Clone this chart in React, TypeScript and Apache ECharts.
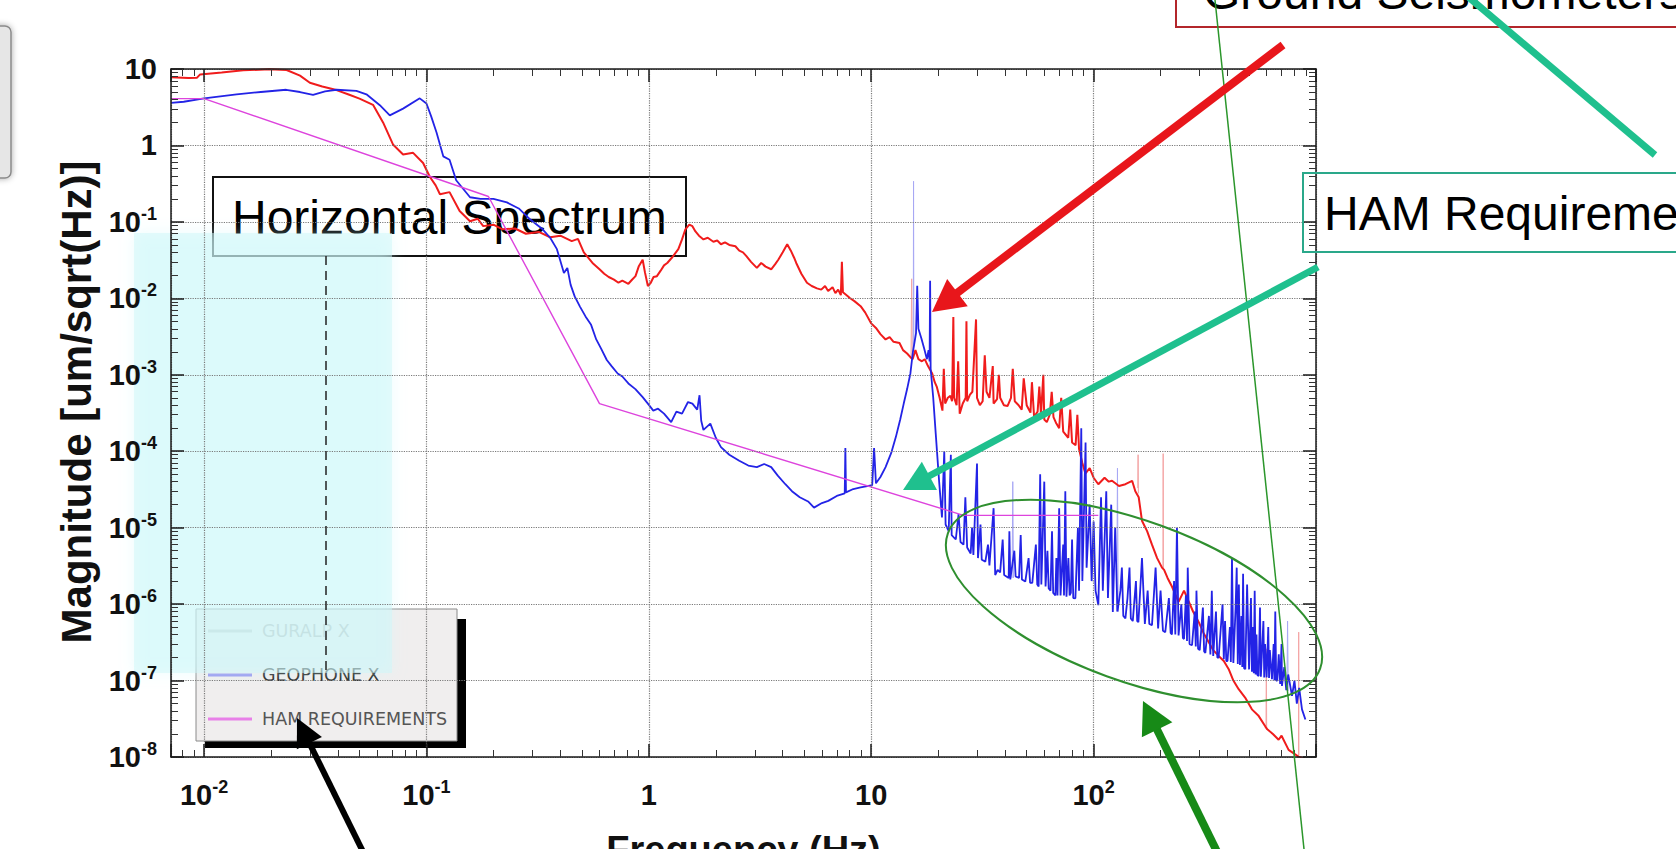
import React, { useEffect, useRef } from 'react';
import * as echarts from 'echarts';

const FONT = "'Liberation Sans', Arial, Helvetica, sans-serif";

// ---- data: [frequency Hz, magnitude um/sqrt(Hz)] ----
const guralpX: [number, number][] = [
  [0.0071, 7.8], [0.0085, 7.6], [0.0093, 7.7], [0.0096, 8.5], [0.012, 9.0], [0.015, 9.6], [0.0197, 9.9], [0.0235, 9.7],
  [0.027, 8.2], [0.0299, 6.6], [0.034, 5.9], [0.0394, 5.3], [0.045, 4.6], [0.05, 4.1], [0.0575, 3.4], [0.0638, 2.0],
  [0.0707, 1.03], [0.0785, 0.76], [0.0871, 0.8], [0.0966, 0.59], [0.1035, 0.39], [0.11, 0.3], [0.115, 0.23], [0.127, 0.245],
  [0.141, 0.139], [0.157, 0.102], [0.17, 0.11], [0.18, 0.088], [0.2, 0.092], [0.22, 0.08], [0.25, 0.082], [0.28, 0.07],
  [0.32, 0.074], [0.36, 0.063], [0.4, 0.066], [0.45, 0.056], [0.48, 0.06], [0.51, 0.04], [0.558, 0.029], [0.6, 0.024],
  [0.63, 0.021], [0.66, 0.019], [0.697, 0.0176], [0.73, 0.016], [0.76, 0.017], [0.809, 0.0155], [0.84, 0.0175], [0.871, 0.0195],
  [0.9, 0.026], [0.938, 0.032], [0.96, 0.022], [0.99, 0.0145], [1.02, 0.016], [1.05, 0.019], [1.087, 0.0195], [1.13, 0.023],
  [1.17, 0.027], [1.21, 0.029], [1.28, 0.035], [1.357, 0.044], [1.41, 0.059], [1.46, 0.08], [1.52, 0.092], [1.57, 0.088],
  [1.62, 0.075], [1.68, 0.066], [1.76, 0.059], [1.84, 0.062], [1.95, 0.055], [2.03, 0.057], [2.11, 0.051], [2.2, 0.054],
  [2.3, 0.05], [2.45, 0.048], [2.55, 0.042], [2.65, 0.04], [2.74, 0.036], [2.88, 0.03], [3.06, 0.025], [3.2, 0.029],
  [3.35, 0.026], [3.55, 0.024], [3.7, 0.028], [3.82, 0.032], [4.0, 0.04], [4.19, 0.051], [4.35, 0.042], [4.5, 0.034],
  [4.6, 0.029], [4.85, 0.021], [5.14, 0.016], [5.4, 0.0145], [5.7, 0.0135], [5.96, 0.013], [6.2, 0.0145], [6.4, 0.0125],
  [6.7, 0.014], [6.9, 0.0117], [7.1, 0.013], [7.3, 0.011], [7.38, 0.03], [7.46, 0.012], [7.8, 0.0108], [8.01, 0.0101],
  [8.4, 0.0092], [8.96, 0.0079], [9.4, 0.0065], [10.0, 0.0047], [10.5, 0.0041], [11.0, 0.0034], [11.6, 0.0029], [12.1, 0.0031],
  [12.6, 0.0027], [13.4, 0.0026], [13.9, 0.0021], [14.5, 0.0019], [15.0, 0.0017], [15.35, 0.0016], [15.8, 0.0021],
  [16.3, 0.0016], [16.9, 0.0015], [17.4, 0.0016], [18.0, 0.0013], [18.8, 1.04e-3], [19.3, 8e-4], [19.7, 7e-4], [20.3, 5e-4],
  [20.9, 3.4e-4], [21.2, 1.2e-3], [21.5, 4.2e-4], [22.1, 5e-4], [22.7, 5.3e-4], [23.1, 4.5e-4], [23.4, 5.7e-3], [23.6, 5e-4],
  [24.2, 4e-4], [24.6, 1.5e-3], [25.0, 3.1e-4], [25.8, 4.2e-4], [26.6, 5e-4], [26.8, 5e-3], [27.0, 4.5e-4], [27.8, 5.5e-4],
  [28.5, 6e-4], [29.6, 5.3e-3], [29.9, 5e-4], [30.8, 4e-4], [31.7, 4.5e-4], [32.4, 1.8e-3], [33.0, 6e-4], [34.0, 5e-4],
  [35.2, 1.3e-3], [35.5, 4.2e-4], [36.8, 4.8e-4], [37.5, 1e-3], [38.0, 5e-4], [39.5, 4e-4], [41.0, 3.9e-4], [42.5, 5e-4],
  [43.3, 1.2e-3], [44.2, 4.5e-4], [46.0, 4e-4], [47.5, 3.5e-4], [48.5, 9e-4], [50.0, 4e-4], [52.0, 3.2e-4], [52.8, 8e-4],
  [54.0, 2.8e-4], [56.0, 3.3e-4], [57.0, 7e-4], [58.0, 3e-4], [59.4, 1e-3], [60.0, 2.6e-4], [61.6, 2.4e-4], [63.5, 3e-4],
  [64.8, 6e-4], [66.0, 2.8e-4], [68.0, 2.3e-4], [70.0, 2e-4], [71.5, 5e-4], [73.0, 1.8e-4], [76.9, 1.5e-4], [78.5, 3.5e-4],
  [80.0, 1.3e-4], [83.0, 1.2e-4], [84.5, 3e-4], [86.0, 1.07e-4], [89.0, 7e-5], [91.8, 5.1e-5], [96.0, 6e-5], [100.0, 4.5e-5],
  [105.0, 3.7e-5], [112.0, 4.5e-5], [117.0, 4e-5], [121.0, 4.1e-5], [130.0, 3.5e-5], [139.0, 3.7e-5], [149.0, 4.1e-5],
  [154.0, 3e-5], [159.5, 2.5e-5], [165.0, 1.23e-5], [174.0, 9e-6], [183.0, 6e-6], [193.0, 4e-6], [203.0, 3e-6],
  [207.5, 2.8e-6], [215.0, 2.2e-6], [225.0, 1.7e-6], [241.0, 1.07e-6], [255.0, 1.5e-6], [267.0, 1.1e-6],
  [280.0, 8e-7], [297.0, 5.8e-7], [312.0, 4.2e-7], [329.0, 3.2e-7], [345.0, 2.5e-7], [365.0, 2.1e-7], [385.0, 1.8e-7],
  [405.0, 1.41e-7], [425.0, 1e-7], [449.0, 7.7e-8], [480.0, 6e-8], [515.0, 4.2e-8], [550.0, 3.5e-8],
  [592.0, 2.5e-8], [604.0, 2.3e-8], [640.0, 2e-8], [679.0, 1.68e-8], [700.0, 1.9e-8],
  [753.0, 1.24e-8], [800.0, 1.1e-8], [840.0, 1e-8], [896.0, 9.5e-9],
];

// faint, thin spikes of the GURALP trace (base, peak, base; null breaks the line)
const guralpXPaleSpikes: [number, number | null][] = [
  [15.1, 1.7e-3], [15.2, 0.018], [15.3, 1.6e-3], [15.3, null],
  [158, 3.3e-5], [158.5, 9e-5], [159, 2.8e-5], [159, null],
  [205, 3e-6], [205.5, 9.3e-5], [206, 2.9e-6], [206, null],
  [596, 2.5e-8], [598, 2.6e-7], [600, 2.4e-8], [600, null],
  [834, 1.05e-8], [836, 4.3e-7], [838, 1.05e-8],
];

const geophoneX: [number, number][] = [
  [0.0071, 3.6], [0.0081, 3.73], [0.01, 4.13], [0.014, 4.67], [0.018, 5.0], [0.0234, 5.35], [0.027, 5.0], [0.0309, 4.58],
  [0.035, 5.1], [0.0394, 5.35], [0.0484, 5.18], [0.0537, 4.67], [0.0617, 3.36], [0.0684, 2.47], [0.0785, 3.03], [0.0933, 4.13],
  [0.1, 3.54], [0.105, 2.4], [0.111, 1.48], [0.119, 0.72], [0.127, 0.65], [0.136, 0.35], [0.157, 0.21], [0.175, 0.2],
  [0.2, 0.2], [0.23, 0.18], [0.26, 0.15], [0.29, 0.11], [0.333, 0.08], [0.36, 0.062], [0.386, 0.044], [0.415, 0.0215],
  [0.43, 0.025], [0.445, 0.015], [0.464, 0.0106], [0.49, 0.0078], [0.519, 0.0058], [0.55, 0.0045], [0.58, 0.0029], [0.61, 0.0022],
  [0.647, 1.56e-3], [0.68, 1.3e-3], [0.724, 1.04e-3], [0.76, 9.5e-4], [0.809, 7.7e-4], [0.87, 6.5e-4], [0.938, 5.1e-4], [0.99, 4.2e-4],
  [1.047, 3.4e-4], [1.1, 3.6e-4], [1.17, 3.1e-4], [1.26, 2.4e-4], [1.33, 3.3e-4], [1.41, 3.1e-4], [1.5, 4.4e-4], [1.57, 4.2e-4],
  [1.65, 3.5e-4], [1.69, 5.4e-4], [1.72, 2.5e-4], [1.76, 1.9e-4], [1.89, 2.3e-4], [2.0, 1.5e-4], [2.11, 1.13e-4], [2.3, 9e-5],
  [2.55, 7.5e-5], [2.8, 6.5e-5], [3.06, 6.2e-5], [3.3, 6.8e-5], [3.55, 6.2e-5], [3.8, 4.8e-5], [4.11, 3.7e-5], [4.4, 3e-5],
  [4.77, 2.5e-5], [5.2, 2.2e-5], [5.53, 1.83e-5], [6.0, 2.1e-5], [6.41, 2.24e-5], [7.0, 2.6e-5], [7.6, 2.8e-5], [7.65, 1.1e-4],
  [7.7, 2.9e-5], [8.3, 3.2e-5], [8.96, 3.36e-5], [9.6, 3.5e-5], [10.1, 3.6e-5], [10.3, 1.1e-4], [10.5, 3.8e-5], [11.0, 4.6e-5],
  [11.6, 6.2e-5], [12.3, 9.5e-5], [12.9, 1.53e-4], [13.5, 2.6e-4], [14.0, 4.2e-4], [14.5, 6.5e-4], [15.0, 1.04e-3], [15.4, 2e-3],
  [15.6, 2.5e-3], [15.9, 3.5e-3], [16.1, 0.0146], [16.3, 4e-3], [16.8, 3e-3], [17.3, 2.2e-3], [17.8, 1.6e-3],
  [18.1, 2.1e-3], [18.3, 1.5e-3], [18.4, 0.017], [18.5, 1.2e-3], [19.0, 5e-4], [19.5, 1.7e-4], [20.2, 4e-5], [20.8, 1.36e-5],
  [21.3, 1e-4], [21.6, 1.1e-5], [22.3, 9e-6], [22.8, 9e-5], [23.0, 8e-6], [24.0, 7e-6], [24.7, 1.5e-5], [25.2, 6.5e-6],
  [26.0, 6e-6], [26.5, 2.5e-5], [27.0, 5.5e-6], [28.0, 4.6e-6], [28.4, 1e-5], [28.8, 4.4e-6], [29.9, 6.9e-5], [30.2, 4e-6],
  [31.0, 1.1e-5], [31.4, 3.8e-6], [32.6, 3.6e-6], [33.5, 6e-6], [34.0, 3.2e-6], [35.5, 1.8e-5], [36.1, 2.4e-6], [37.0, 2.8e-6],
  [38.0, 2.6e-6], [39.0, 7e-6], [39.6, 2.4e-6], [41.5, 2.2e-6], [41.8, 9e-6], [42.2, 2.1e-6], [44.0, 5e-6], [44.6, 2.3e-6],
  [46.2, 2.2e-6], [47.0, 8e-6], [47.6, 2.1e-6], [49.3, 1.97e-6], [51.0, 4e-6], [51.8, 1.9e-6], [53.0, 1.9e-6], [55.0, 6e-6],
  [55.8, 1.8e-6], [56.6, 1.7e-6], [57.5, 5e-5], [58.2, 1.8e-6], [60.0, 4e-5], [60.8, 1.7e-6], [62.0, 5e-6], [62.8, 1.6e-6],
  [64.0, 1.5e-6], [65.0, 9e-6], [65.8, 1.4e-6], [67.3, 1.3e-6], [68.0, 4e-6], [68.8, 1.3e-6], [70.0, 1.8e-5], [71.0, 1.3e-6],
  [73.0, 6e-6], [73.6, 1.3e-6], [74.6, 3e-5], [75.5, 1.25e-6], [77.0, 4e-6], [78.0, 1.3e-6], [79.0, 1.4e-6], [80.0, 7e-6],
  [81.0, 1.2e-6], [82.8, 1.19e-6], [85.0, 1e-5], [86.0, 1.5e-6], [88.0, 2e-4], [89.0, 2e-6], [92.0, 1.3e-4], [93.0, 3e-6],
  [96.0, 2e-5], [98.0, 2e-6], [100.0, 1.2e-5], [102.0, 1.5e-6], [105.0, 9.7e-7], [108.0, 2.5e-5], [110.0, 1.5e-6], [114.0, 3e-5],
  [116.0, 1.2e-6], [120.0, 2e-5], [122.0, 7.9e-7], [125.0, 1e-5], [128.0, 8e-7], [132.0, 1.5e-6], [134.0, 3e-6], [136.0, 7e-7],
  [139.0, 6.5e-7], [142.0, 1.2e-6], [145.0, 3e-6], [147.0, 6.5e-7], [150.0, 6e-7], [155.0, 2e-6], [157.0, 6e-7], [159.0, 5.8e-7],
  [165.0, 4e-6], [170.0, 5.5e-7], [175.0, 1.5e-6], [178.0, 5.5e-7], [183.0, 5.3e-7], [190.0, 3e-6], [195.0, 4.8e-7], [200.0, 1.5e-6],
  [205.0, 4.5e-7], [210.0, 4.3e-7], [218.0, 1.2e-6], [222.0, 4.2e-7], [225.0, 4e-7], [230.0, 2e-6], [233.0, 4e-7], [237.0, 1e-5],
  [241.0, 3.9e-7], [248.0, 1e-6], [252.0, 3.6e-7], [255.0, 3.5e-7], [260.0, 1.3e-6], [263.0, 3.3e-7], [265.0, 3e-6], [270.0, 3e-7],
  [277.0, 2.9e-7], [285.0, 8e-7], [288.0, 2.8e-7], [290.0, 1.5e-6], [295.0, 2.6e-7], [300.0, 2.5e-7], [310.0, 9e-7], [314.0, 2.4e-7],
  [318.0, 2.3e-7], [330.0, 7e-7], [335.0, 2.2e-7], [340.0, 1.5e-6], [345.0, 2.1e-7], [355.0, 8e-7], [360.0, 2e-7], [365.0, 2e-7],
  [380.0, 1e-6], [385.0, 1.9e-7], [390.0, 6e-7], [395.0, 1.8e-7], [400.0, 1.8e-7], [410.0, 5e-7], [414.0, 1.75e-7], [419.0, 4e-6],
  [425.0, 1.7e-7], [435.0, 9e-7], [440.0, 3e-6], [445.0, 1.65e-7], [450.0, 1.8e-6], [455.0, 1.6e-7], [462.0, 7e-7], [466.0, 1.5e-7],
  [470.0, 2.5e-6], [475.0, 1.45e-7], [481.0, 1.41e-7], [490.0, 1.8e-6], [500.0, 1.4e-7], [510.0, 1.2e-6], [515.0, 1.3e-7],
  [520.0, 5e-7], [525.0, 1.25e-7], [530.0, 1.5e-6], [535.0, 1.2e-7], [540.0, 4e-7], [545.0, 1.18e-7], [552.0, 1.15e-7],
  [560.0, 9e-7], [565.0, 1.12e-7], [580.0, 6e-7], [585.0, 1.1e-7], [590.0, 3e-7], [600.0, 1.1e-7], [610.0, 5e-7], [615.0, 1.08e-7],
  [620.0, 2.5e-7], [634.0, 1.04e-7], [645.0, 3e-7], [650.0, 1e-7], [656.0, 8e-7], [662.0, 1e-7], [670.0, 1e-7], [680.0, 2.2e-7],
  [690.0, 9e-8], [700.0, 3e-7], [703.0, 8.5e-8], [720.0, 1.5e-7], [735.0, 7.5e-8], [750.0, 1.2e-7], [780.0, 6.3e-8], [800.0, 1e-7],
  [820.0, 5e-8], [840.0, 8e-8], [865.0, 4.2e-8], [896.0, 3.1e-8],
];

// faint, thin spikes of the geophone trace
const geophoneXPaleSpikes: [number, number | null][] = [
  [15.45, 2.2e-3], [15.5, 0.34], [15.55, 2.4e-3], [15.55, null],
  [43, 2.2e-6], [43.3, 4e-5], [43.6, 2.2e-6], [43.6, null],
  [127, 8e-7], [128, 6e-5], [129, 8e-7], [129, null],
  [740, 7.5e-8], [745, 6e-7], [750, 7.3e-8],
];

const hamRequirements: [number, number][] = [
  [0.0071, 4.1], [0.01, 4.1], [0.19, 0.215], [0.6, 4.2e-4], [26, 1.45e-5], [105, 1.45e-5],
];

const seriesNames = ['GURALP X', 'GEOPHONE X', 'HAM REQUIREMENTS'];
const xRange = [0.0071, 1000];
const yRange = [1e-8, 10];
const xLabelExps = [-2, -1, 0, 1, 2];
const yLabelExps = [-8, -7, -6, -5, -4, -3, -2, -1, 0, 1];
const minorMantissas = [2, 3, 4, 5, 6, 7, 8, 9];

function minorTicks(lo: number, hi: number): number[] {
  const out: number[] = [];
  for (let e = Math.floor(Math.log10(lo)); e <= Math.ceil(Math.log10(hi)); e++) {
    for (const m of minorMantissas) {
      const v = m * Math.pow(10, e);
      if (v > lo && v < hi) out.push(v);
    }
  }
  return out;
}

function powLabel(v: number, shown: number[]): string {
  const e = Math.log10(v);
  const r = Math.round(e);
  if (Math.abs(e - r) > 1e-6 || !shown.includes(r)) return '';
  if (r === 0) return '{b|1}';
  if (r === 1) return '{b|10}';
  return `{b|10}{s|${r}}`;
}

const rich = {
  b: { fontSize: 29, fontWeight: 'bold', fontFamily: FONT, color: '#111', lineHeight: 34 },
  s: { fontSize: 18, fontWeight: 'bold', fontFamily: FONT, color: '#111', lineHeight: 18, verticalAlign: 'top' },
};

function arrow(x1: number, y1: number, x2: number, y2: number, w: number, color: string, L: number, W: number) {
  const dx = x2 - x1, dy = y2 - y1;
  const len = Math.hypot(dx, dy);
  const ux = dx / len, uy = dy / len;
  const bx = x2 - ux * L, by = y2 - uy * L;
  const nx = -uy, ny = ux;
  return [
    { type: 'line', z: 10, silent: true, shape: { x1, y1, x2: bx + ux * 3, y2: by + uy * 3 }, style: { stroke: color, lineWidth: w } },
    {
      type: 'polygon', z: 10, silent: true,
      shape: { points: [[x2, y2], [bx + nx * W, by + ny * W], [bx - nx * W, by - ny * W]] },
      style: { fill: color },
    },
  ];
}

function buildOption() {
  const axisLineStyle = { color: '#1a1a1a', width: 1.5 };
  const xMinor = minorTicks(xRange[0], xRange[1]);
  const yMinor = minorTicks(yRange[0], yRange[1]);
  const baseX = { type: 'log', logBase: 10, min: xRange[0], max: xRange[1], gridIndex: 0 };
  const baseY = { type: 'log', logBase: 10, min: yRange[0], max: yRange[1], gridIndex: 0 };
  const hidden = { show: false };

  const graphics: any[] = [
    // edge of a box on the far left
    {
      type: 'rect', z: 1, silent: true, shape: { x: -20, y: 26, width: 31, height: 152, r: 6 },
      style: { fill: '#e6e6e6', stroke: '#8a8a8a', lineWidth: 1.5, shadowBlur: 6, shadowColor: 'rgba(0,0,0,0.35)' },
    },
    // legend shadow
    { type: 'rect', z: 3, silent: true, shape: { x: 205, y: 619, width: 261, height: 129 }, style: { fill: '#000' } },
    // cyan highlight
    {
      type: 'rect', z: 5, silent: true, shape: { x: 134, y: 233, width: 258, height: 440 },
      style: { fill: 'rgba(205,248,250,0.5)', shadowBlur: 14, shadowColor: 'rgba(205,248,250,0.8)' },
    },
    { type: 'line', z: 7, silent: true, shape: { x1: 326, y1: 256, x2: 326, y2: 672 }, style: { stroke: '#222', lineWidth: 1.5, lineDash: [9, 6] } },
    // title box
    { type: 'rect', z: 1, silent: true, shape: { x: 213, y: 177, width: 473, height: 79 }, style: { fill: 'none', stroke: '#111', lineWidth: 2 } },
    { type: 'text', z: 1, silent: true, x: 232, y: 217, style: { text: 'Horizontal Spectrum', fontSize: 48, fontFamily: FONT, fill: '#000', verticalAlign: 'middle' } },
    // HAM requirements box
    { type: 'rect', z: 9, silent: true, shape: { x: 1303, y: 173, width: 420, height: 79 }, style: { fill: 'none', stroke: '#2aa88a', lineWidth: 2 } },
    { type: 'text', z: 9, silent: true, x: 1324, y: 213, style: { text: 'HAM Requirements', fontSize: 48, fontFamily: FONT, fill: '#000', verticalAlign: 'middle' } },
    // Ground seismometers box
    { type: 'rect', z: 9, silent: true, shape: { x: 1176, y: -70, width: 560, height: 97 }, style: { fill: 'none', stroke: '#b3262b', lineWidth: 2 } },
    { type: 'text', z: 9, silent: true, x: 1203, y: -8, style: { text: 'Ground Seismometers', fontSize: 48, fontFamily: FONT, fill: '#000', verticalAlign: 'middle' } },
    // thin green line
    { type: 'line', z: 10, silent: true, shape: { x1: 1215, y1: 0, x2: 1304, y2: 849 }, style: { stroke: '#2b962b', lineWidth: 1.5 } },
    // teal line from top box
    { type: 'line', z: 10, silent: true, shape: { x1: 1466, y1: -5, x2: 1655, y2: 155 }, style: { stroke: '#1fc08e', lineWidth: 7 } },
    // ellipse
    {
      type: 'ellipse', z: 10, silent: true, x: 1134, y: 601, rotation: (-20 * Math.PI) / 180,
      shape: { cx: 0, cy: 0, rx: 198, ry: 80 }, style: { fill: 'none', stroke: '#2f8f2f', lineWidth: 2 },
    },
    ...arrow(1283, 45, 932, 312, 8, '#e8161b', 32, 17),
    ...arrow(1318, 267, 903, 490, 7, '#1fc08e', 30, 16),
    ...arrow(372, 870, 297, 718, 6, '#000000', 28, 14),
    ...arrow(1226, 870, 1143, 701, 8, '#178a17', 32, 17),
  ];

  const lineSeries = (name: string, data: any[], color: string, width: number, z: number) => ({
    name, type: 'line', data, xAxisIndex: 0, yAxisIndex: 0, connectNulls: false,
    symbol: 'none', showSymbol: false, z,
    lineStyle: { color, width }, itemStyle: { color },
  });

  return {
    animation: false,
    backgroundColor: '#ffffff',
    textStyle: { fontFamily: FONT },
    grid: { left: 171, top: 69, right: 360, bottom: 92, containLabel: false, outerBoundsMode: 'none' },
    legend: {
      orient: 'vertical', left: 196, top: 609, z: 4,
      padding: [13, 10, 13, 12], itemGap: 26, itemWidth: 44, itemHeight: 3,
      backgroundColor: '#f0eeee', borderColor: '#8a8a8a', borderWidth: 1,
      textStyle: { fontSize: 17.5, fontFamily: "'DejaVu Sans', sans-serif", color: '#333', padding: [0, 0, 0, 5] },
      data: [
        { name: seriesNames[0], icon: 'rect', itemStyle: { color: '#c6c6c6' }, textStyle: { color: '#b0b0b0' } },
        { name: seriesNames[1], icon: 'rect', itemStyle: { color: '#9a9af0' }, textStyle: { color: '#2a2a2a' } },
        { name: seriesNames[2], icon: 'rect', itemStyle: { color: '#e880e8' }, textStyle: { color: '#555555' } },
      ],
    },
    xAxis: [
      {
        ...baseX, position: 'bottom', z: 6,
        name: 'Frequency (Hz)', nameLocation: 'middle', nameGap: 74,
        nameTextStyle: { fontSize: 38, fontWeight: 'bold', color: '#111', fontFamily: FONT },
        axisLine: { show: true, lineStyle: axisLineStyle },
        axisTick: { show: true, inside: true, length: 13, lineStyle: { color: '#1a1a1a', width: 1.5 } },
        axisLabel: { show: true, margin: 21, formatter: (v: number) => powLabel(v, xLabelExps), rich },
        splitLine: { show: true, lineStyle: { type: 'dotted', color: '#7a7a7a', width: 1.2 } },
        minorTick: hidden, minorSplitLine: hidden,
      },
      {
        ...baseX, position: 'top', z: 6,
        axisLine: { show: true, lineStyle: axisLineStyle },
        axisTick: { show: true, inside: true, length: 13, lineStyle: { color: '#1a1a1a', width: 1.5 } },
        axisLabel: hidden, splitLine: hidden,
      },
      {
        ...baseX, position: 'bottom', z: 6,
        axisLine: hidden, axisLabel: hidden, splitLine: hidden,
        axisTick: { show: true, inside: true, length: 7, customValues: xMinor, lineStyle: { color: '#333', width: 1 } },
      },
      {
        ...baseX, position: 'top', z: 6,
        axisLine: hidden, axisLabel: hidden, splitLine: hidden,
        axisTick: { show: true, inside: true, length: 7, customValues: xMinor, lineStyle: { color: '#333', width: 1 } },
      },
    ],
    yAxis: [
      {
        ...baseY, position: 'left', z: 6,
        name: 'Magnitude [um/sqrt(Hz)]', nameLocation: 'middle', nameGap: 66, nameRotate: 90,
        nameTextStyle: { fontSize: 42, fontWeight: 'bold', color: '#111', fontFamily: FONT, padding: [0, 0, 0, 22] },
        axisLine: { show: true, lineStyle: axisLineStyle },
        axisTick: { show: true, inside: true, length: 13, lineStyle: { color: '#1a1a1a', width: 1.5 } },
        axisLabel: { show: true, margin: 14, formatter: (v: number) => powLabel(v, yLabelExps), rich },
        splitLine: { show: true, lineStyle: { type: 'dotted', color: '#7a7a7a', width: 1.2 } },
        minorTick: hidden, minorSplitLine: hidden,
      },
      {
        ...baseY, position: 'right', z: 6,
        axisLine: { show: true, lineStyle: axisLineStyle },
        axisTick: { show: true, inside: true, length: 13, lineStyle: { color: '#1a1a1a', width: 1.5 } },
        axisLabel: hidden, splitLine: hidden,
      },
      {
        ...baseY, position: 'left', z: 6,
        axisLine: hidden, axisLabel: hidden, splitLine: hidden,
        axisTick: { show: true, inside: true, length: 7, customValues: yMinor, lineStyle: { color: '#333', width: 1 } },
      },
      {
        ...baseY, position: 'right', z: 6,
        axisLine: hidden, axisLabel: hidden, splitLine: hidden,
        axisTick: { show: true, inside: true, length: 7, customValues: yMinor, lineStyle: { color: '#333', width: 1 } },
      },
    ],
    series: [
      lineSeries(seriesNames[0], guralpXPaleSpikes, '#f4a4a4', 1, 1),
      lineSeries(seriesNames[1], geophoneXPaleSpikes, '#a8a8f4', 1, 1),
      lineSeries(seriesNames[0], guralpX, '#f01c1c', 2, 2),
      lineSeries(seriesNames[1], geophoneX, '#2323e6', 1.8, 2),
      lineSeries(seriesNames[2], hamRequirements, '#dd44dd', 1.4, 3),
    ],
    graphic: { elements: graphics },
  };
}

export default function App() {
  const ref = useRef<HTMLDivElement>(null);
  useEffect(() => {
    if (!ref.current) return;
    const chart = echarts.init(ref.current, null, { renderer: 'svg', width: 1676, height: 849 });
    chart.setOption(buildOption() as any);
    return () => chart.dispose();
  }, []);
  return (
    <div
      ref={ref}
      style={{ position: 'fixed', left: 0, top: 0, width: 1676, height: 849, background: '#fff' }}
    />
  );
}
